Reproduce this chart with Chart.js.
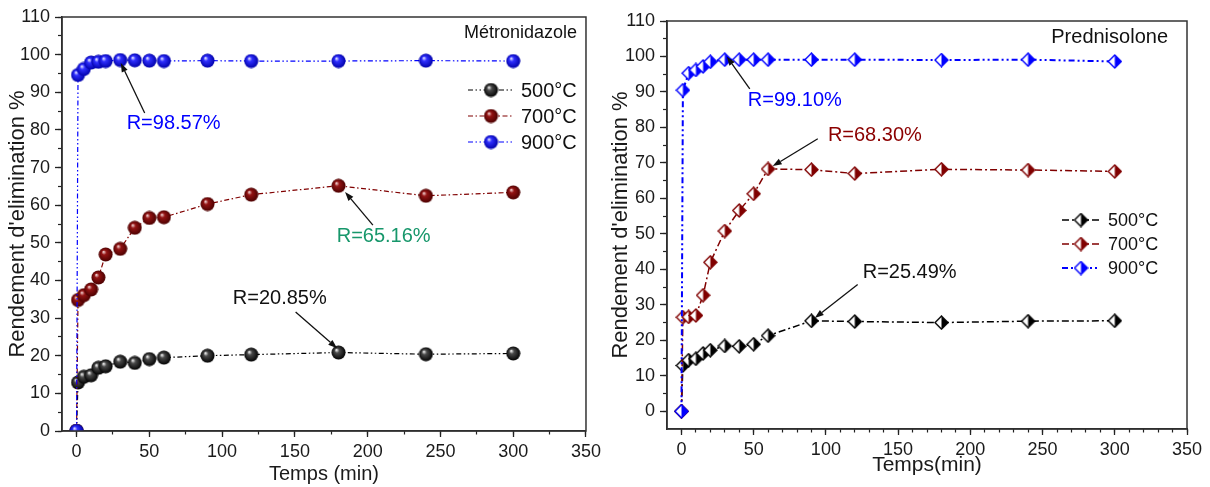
<!DOCTYPE html>
<html>
<head>
<meta charset="utf-8">
<script src="https://cdn.jsdelivr.net/npm/chart.js@4"></script>
<style>
  html, body { margin: 0; padding: 0; background: #fff; }
  #wrap { position: relative; width: 1210px; height: 487px; }
  .pane { position: absolute; top: 0; width: 605px; height: 487px; }
</style>
</head>
<body>
<div id="wrap">
  <div class="pane" style="left:0"><canvas id="metro"></canvas></div>
  <div class="pane" style="left:605px"><canvas id="pred"></canvas></div>
</div>
<script>
// temps de contact (min)
const times = [0, 1, 5, 10, 15, 20, 30, 40, 50, 60, 90, 120, 180, 240, 300];
const series = ['500°C', '700°C', '900°C'];
const xTickLabels = [0, 50, 100, 150, 200, 250, 300, 350];
const yTickLabels = [0, 10, 20, 30, 40, 50, 60, 70, 80, 90, 100, 110];

// Métronidazole
const metro500 = [0, 12.9, 14.4, 14.8, 16.8, 17.2, 18.4, 18.1, 19.1, 19.5, 20.0, 20.3, 20.85, 20.4, 20.6];
const metro700 = [0, 34.8, 36.1, 37.6, 40.8, 46.9, 48.4, 54.0, 56.6, 56.8, 60.3, 62.8, 65.16, 62.5, 63.4];
const metro900 = [0, 94.6, 96.2, 97.9, 98.1, 98.3, 98.57, 98.5, 98.4, 98.3, 98.4, 98.3, 98.3, 98.4, 98.3];

// Prednisolone
const pred500 = [0, 12.9, 14.4, 14.8, 16.3, 17.2, 18.4, 18.3, 18.9, 21.3, 25.49, 25.3, 25.0, 25.4, 25.5];
const pred700 = [0, 26.5, 26.6, 27.0, 32.7, 42.0, 50.8, 56.6, 61.3, 68.3, 68.1, 67.0, 68.2, 68.0, 67.6];
const pred900 = [0, 90.5, 95.3, 96.2, 97.2, 98.5, 99.1, 99.1, 99.1, 99.1, 99.1, 99.1, 99.0, 99.1, 98.6];

const yTitle = "Rendement d'elimination %";
const colors = ['#000000', '#800000', '#0000ff'];

Chart.defaults.font.family = 'Arial, "Liberation Sans", sans-serif';
Chart.defaults.color = '#1a1a1a';

// petites images pour les marqueurs
function ball(hi, mid, dark) {
  const c = document.createElement('canvas');
  c.width = 15; c.height = 15;
  const g = c.getContext('2d');
  const grd = g.createRadialGradient(5.3, 4.8, 0.3, 7.5, 7.5, 7.2);
  grd.addColorStop(0, hi);
  grd.addColorStop(0.3, mid);
  grd.addColorStop(1, dark);
  g.fillStyle = grd;
  g.beginPath(); g.arc(7.5, 7.5, 7, 0, Math.PI * 2); g.fill();
  return c;
}
function halfDiamond(col) {
  const c = document.createElement('canvas');
  c.width = 15; c.height = 15;
  const g = c.getContext('2d');
  const path = () => {
    g.beginPath();
    g.moveTo(7.5, 1); g.lineTo(14, 7.5); g.lineTo(7.5, 14); g.lineTo(1, 7.5); g.closePath();
  };
  path(); g.fillStyle = '#fff'; g.fill();
  g.save(); g.beginPath(); g.rect(7.5, 0, 8, 15); g.clip();
  path(); g.fillStyle = col; g.fill(); g.restore();
  path(); g.strokeStyle = col; g.lineWidth = 1.4; g.stroke();
  return c;
}

const balls = [
  ball('#f4f4f4', '#4a4a4a', '#000000'),
  ball('#f3d6d6', '#941414', '#4a0000'),
  ball('#eaeaff', '#3030ff', '#0000a8')
];
const diamonds = colors.map(halfDiamond);

const toPts = arr => arr.map((v, i) => ({x: times[i], y: v}));
const steps = (from, to, step) => {
  const out = [];
  for (let v = from; v <= to + 1e-9; v += step) out.push({value: v});
  return out;
};

function axes(o) {
  return {
    x: {
      type: 'linear', min: -10, max: 350,
      afterBuildTicks: s => { s.ticks = xTickLabels.map(v => ({value: v})); },
      ticks: {autoSkip: false, maxRotation: 0, padding: 4, font: {size: o.tick}},
      grid: {drawOnChartArea: false, tickLength: 6, tickWidth: 1.3, tickColor: '#222'},
      border: {color: '#222', width: 1.5},
      title: {display: true, text: o.xTitle, font: {size: o.xTitleSize, lineHeight: 1},
        padding: {top: 0, bottom: o.xTitlePad}},
      afterFit: s => { s.height = o.xHeight; }
    },
    xMinor: {
      type: 'linear', position: 'bottom', weight: -1, min: -10, max: 350,
      afterBuildTicks: s => { s.ticks = steps(0, 350, o.xMinor); },
      ticks: {display: false},
      grid: {drawOnChartArea: false, tickLength: 3.5, tickWidth: 1.2, tickColor: '#222'},
      border: {display: false},
      afterFit: s => { s.height = 0; }
    },
    y: {
      type: 'linear', min: o.yMin, max: 110,
      afterBuildTicks: s => { s.ticks = yTickLabels.map(v => ({value: v})); },
      ticks: {autoSkip: false, padding: 5, font: {size: o.tick}},
      grid: {drawOnChartArea: false, tickLength: 7, tickWidth: 1.3, tickColor: '#222'},
      border: {color: '#222', width: 1.5},
      title: {display: true, text: yTitle, font: {size: 22, lineHeight: 1},
        padding: {top: o.yTitlePad, bottom: 0}},
      afterFit: s => { s.width = 62; }
    },
    yMinor: {
      type: 'linear', position: 'left', weight: -1, min: o.yMin, max: 110,
      afterBuildTicks: s => { s.ticks = steps(0, 110, 5); },
      ticks: {display: false},
      grid: {drawOnChartArea: false, tickLength: 4, tickWidth: 1.2, tickColor: '#222'},
      border: {display: false},
      afterFit: s => { s.width = 0; }
    }
  };
}

// cadre, légende, nom du composé et flèches
const decor = {
  id: 'decor',
  afterDatasetsDraw(chart, args, opts) {
    const ctx = chart.ctx;
    const a = chart.chartArea;
    const xs = chart.scales.x, ys = chart.scales.y;
    ctx.save();
    ctx.strokeStyle = '#333';
    ctx.lineWidth = 1.5;
    ctx.strokeRect(a.left, a.top, a.right - a.left, a.bottom - a.top);

    // nom
    ctx.fillStyle = '#111';
    ctx.font = opts.nameFont;
    ctx.textAlign = 'right';
    ctx.textBaseline = 'middle';
    ctx.fillText(opts.name, a.right - opts.nameDx, a.top + opts.nameDy);

    // légende
    const L = opts.legend;
    ctx.font = L.font;
    ctx.textAlign = 'left';
    chart.data.datasets.forEach((ds, i) => {
      const y = L.y + i * L.gap;
      ctx.strokeStyle = ds.borderColor;
      ctx.lineWidth = ds.borderWidth;
      ctx.setLineDash(ds.borderDash);
      ctx.beginPath(); ctx.moveTo(L.x1, y); ctx.lineTo(L.x2, y); ctx.stroke();
      ctx.setLineDash([]);
      const img = ds.pointStyle;
      ctx.drawImage(img, L.mx - img.width / 2, y - img.height / 2);
      ctx.fillStyle = '#111';
      ctx.fillText(ds.label, L.tx, y + 1);
    });

    // annotations
    ctx.font = '20px Arial, "Liberation Sans", sans-serif';
    ctx.textAlign = 'center';
    opts.notes.forEach(n => {
      ctx.fillStyle = n.color;
      ctx.fillText(n.text, xs.getPixelForValue(n.at[0]), ys.getPixelForValue(n.at[1]));
      const x1 = xs.getPixelForValue(n.from[0]), y1 = ys.getPixelForValue(n.from[1]);
      const x2 = xs.getPixelForValue(n.to[0]), y2 = ys.getPixelForValue(n.to[1]);
      const ang = Math.atan2(y2 - y1, x2 - x1);
      const hl = 9, hw = 3.2;
      const bx = x2 - hl * Math.cos(ang), by = y2 - hl * Math.sin(ang);
      ctx.strokeStyle = '#111'; ctx.fillStyle = '#111'; ctx.lineWidth = 1.3;
      ctx.beginPath(); ctx.moveTo(x1, y1); ctx.lineTo(bx, by); ctx.stroke();
      ctx.beginPath();
      ctx.moveTo(x2, y2);
      ctx.lineTo(bx + hw * Math.sin(ang), by - hw * Math.cos(ang));
      ctx.lineTo(bx - hw * Math.sin(ang), by + hw * Math.cos(ang));
      ctx.closePath(); ctx.fill();
    });
    ctx.restore();
  }
};

function makeDatasets(values, markers, dashes, widths) {
  return values.map((vals, i) => ({
    label: series[i],
    data: toPts(vals),
    borderColor: colors[i],
    backgroundColor: colors[i],
    borderWidth: widths[i],
    borderDash: dashes[i],
    pointStyle: markers[i],
    pointRadius: 6,
    order: 2 - i
  }));
}

// Graphique Métronidazole
new Chart(document.getElementById('metro'), {
  type: 'line',
  data: {
    datasets: makeDatasets([metro500, metro700, metro900], balls,
      [[5, 2.5, 1.5, 2.5, 1.5, 2.5], [5, 2.5, 1.5, 2.5], [5, 2.5, 1.5, 2.5, 1.5, 2.5]],
      [1.2, 1.2, 1.2])
  },
  options: {
    responsive: true, maintainAspectRatio: false, animation: false, events: [],
    layout: {padding: {left: 0, top: 17, right: 14, bottom: 0}},
    plugins: {
      legend: {display: false}, tooltip: {enabled: false},
      decor: {
        name: 'Métronidazole', nameFont: '18px Arial, "Liberation Sans", sans-serif', nameDx: 9, nameDy: 16,
        legend: {y: 90, gap: 26, x1: 468, x2: 513, mx: 491, tx: 521,
          font: '20px Arial, "Liberation Sans", sans-serif'},
        notes: [
          {text: 'R=98.57%', color: '#0000ff', at: [66.7, 81.8], from: [46.8, 84.5], to: [30.4, 97.8]},
          {text: 'R=65.16%', color: '#17976b', at: [211, 51.8], from: [203.6, 54.7], to: [184.5, 63.5]},
          {text: 'R=20.85%', color: '#111', at: [139.6, 35.3], from: [150.5, 31.6], to: [179, 22]}
        ]
      }
    },
    scales: axes({tick: 18, xTitle: 'Temps (min)', xTitleSize: 20, xTitlePad: 3, xHeight: 56,
      xMinor: 25, yMin: 0, yTitlePad: 7})
  },
  plugins: [decor]
});

// Graphique Prednisolone
new Chart(document.getElementById('pred'), {
  type: 'line',
  data: {
    datasets: makeDatasets([pred500, pred700, pred900], diamonds,
      [[7, 3, 2, 3], [7, 3, 2, 3], [6, 3, 2, 3, 2, 3]],
      [1.5, 1.5, 2])
  },
  options: {
    responsive: true, maintainAspectRatio: false, animation: false, events: [],
    layout: {padding: {left: 0, top: 21, right: 23, bottom: 0}},
    plugins: {
      legend: {display: false}, tooltip: {enabled: false},
      decor: {
        name: 'Prednisolone', nameFont: '20px Arial, "Liberation Sans", sans-serif', nameDx: 19, nameDy: 16,
        legend: {y: 220, gap: 24, x1: 457, x2: 495, mx: 476, tx: 503,
          font: '18px Arial, "Liberation Sans", sans-serif'},
        notes: [
          {text: 'R=99.10%', color: '#0000ff', at: [78.5, 87.5], from: [47.3, 90.9], to: [31.4, 100]},
          {text: 'R=68.30%', color: '#8b0000', at: [133.9, 77.6], from: [94.4, 76.8], to: [63.2, 69.1]},
          {text: 'R=25.49%', color: '#111', at: [158, 39.1], from: [122, 35.7], to: [92.3, 26.3]}
        ]
      }
    },
    scales: axes({tick: 18, xTitle: 'Temps(min)', xTitleSize: 21, xTitlePad: 11.5, xHeight: 58,
      xMinor: 10, yMin: -5, yTitlePad: 5})
  },
  plugins: [decor]
});
</script>
</body>
</html>
